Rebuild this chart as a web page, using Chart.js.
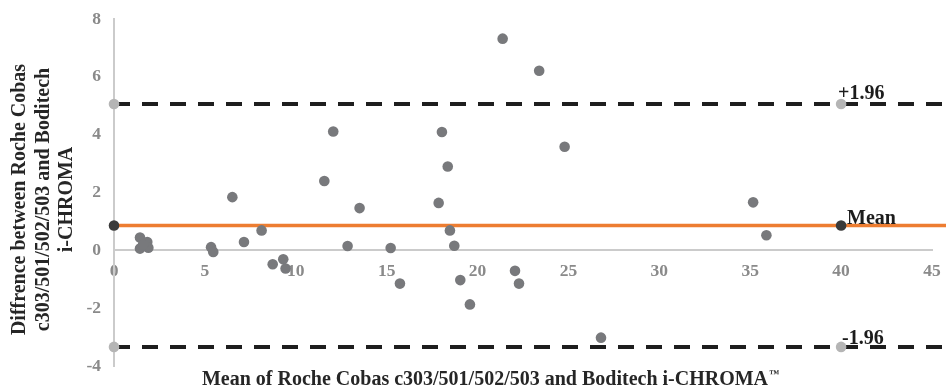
<!DOCTYPE html>
<html>
<head>
<meta charset="utf-8">
<script src="https://cdn.jsdelivr.net/npm/chart.js@4/dist/chart.umd.min.js"></script>
<style>
  html, body { margin: 0; padding: 0; background: #ffffff; }
  #wrap { width: 946px; height: 389px; position: relative; }
</style>
</head>
<body>
<div id="wrap"><canvas id="chart"></canvas></div>
<script>
// Bland-Altman data: mean of the two methods (x) and their difference (y)
const meanValues = [1.43, 1.83, 1.43, 1.89, 1.60, 5.34, 5.46, 6.51, 7.15, 8.12,
                    8.73, 9.31, 9.44, 11.57, 12.06, 12.85, 13.51, 15.22, 15.73, 17.86,
                    18.04, 18.36, 18.48, 18.72, 19.05, 19.58, 21.38, 22.06, 22.28, 23.39,
                    24.79, 26.79, 35.16, 35.89];
const diffValues = [0.44, 0.29, 0.06, 0.09, 0.20, 0.11, -0.06, 1.84, 0.29, 0.69,
                    -0.48, -0.31, -0.63, 2.40, 4.11, 0.15, 1.46, 0.08, -1.15, 1.64,
                    4.09, 2.90, 0.69, 0.16, -1.03, -1.87, 7.32, -0.71, -1.15, 6.21,
                    3.58, -3.02, 1.66, 0.52];

// Bias and limits of agreement (mean ± 1.96 SD)
const biasMean = 0.86;
const upperLimit = 5.06;
const lowerLimit = -3.34;

// x positions of the marker dots and the span of the reference lines
const markerX = [0, 40];
const lineSpanX = [0, 46];

// Axis ranges and tick steps
const xRange = [0, 45];
const xStep = 5;
const yRange = [-4, 8];
const yStep = 2;

// Label texts
const limitLabels = ['+1.96', 'Mean', '-1.96'];
const xTitle = 'Mean of Roche Cobas c303/501/502/503 and Boditech i-CHROMA';
const xTitleMark = '\u2122';
const yTitleLines = ['Diffrence between Roche Cobas', 'c303/501/502/503 and Boditech', 'i-CHROMA'];

const SERIF = '"Liberation Serif", "Times New Roman", serif';

const points = meanValues.map((m, i) => ({ x: m, y: diffValues[i] }));
const hLine = v => lineSpanX.map(x => ({ x, y: v }));
const markers = v => markerX.map(x => ({ x, y: v }));

// Texts beside the markers at x = 40, plus both axis titles
const annotations = {
  id: 'annotations',
  afterDraw(chart) {
    const { ctx, scales, chartArea } = chart;
    const xs = scales.x, ys = scales.y;
    const px = xs.getPixelForValue(markerX[1]);
    const items = [
      { text: limitLabels[0], v: upperLimit, dx: -3, dy: -5 },
      { text: limitLabels[1], v: biasMean, dx: 6, dy: -1 },
      { text: limitLabels[2], v: lowerLimit, dx: 1, dy: -3 }
    ];
    ctx.save();
    ctx.fillStyle = '#1c1c1c';
    ctx.font = 'bold 20px ' + SERIF;
    ctx.textAlign = 'left';
    ctx.textBaseline = 'alphabetic';
    items.forEach(it => {
      ctx.fillText(it.text, px + it.dx, ys.getPixelForValue(it.v) + it.dy);
    });

    // x axis title with a small raised trademark sign
    ctx.fillStyle = '#262626';
    const mainW = ctx.measureText(xTitle).width;
    ctx.font = 'bold 10px ' + SERIF;
    const markW = ctx.measureText(xTitleMark).width;
    const startX = (chartArea.left + chartArea.right) / 2 - 33 - (mainW + markW) / 2;
    const baseY = chartArea.bottom + 19;
    ctx.fillText(xTitleMark, startX + mainW + 1, baseY - 8);
    ctx.font = 'bold 20px ' + SERIF;
    ctx.fillText(xTitle, startX, baseY);

    // y axis title (rotated, three lines)
    ctx.textAlign = 'center';
    ctx.translate(20, (chartArea.top + chartArea.bottom) / 2 + 7);
    ctx.rotate(-Math.PI / 2);
    ctx.textBaseline = 'middle';
    yTitleLines.forEach((line, i) => ctx.fillText(line, 0, i * 23.5));
    ctx.restore();
  }
};

new Chart(document.getElementById('chart'), {
  type: 'scatter',
  data: {
    datasets: [
      { label: 'Upper limit line', data: hLine(upperLimit), showLine: true, borderColor: '#1e1e1e',
        borderWidth: 4, borderDash: [16, 12], pointRadius: 0, clip: false, order: 10 },
      { label: 'Lower limit line', data: hLine(lowerLimit), showLine: true, borderColor: '#1e1e1e',
        borderWidth: 4, borderDash: [16, 12], pointRadius: 0, clip: false, order: 10 },
      { label: 'Mean line', data: hLine(biasMean), showLine: true, borderColor: '#ed7d31',
        borderWidth: 3.5, pointRadius: 0, clip: false, order: 9 },
      { label: 'Differences', data: points, backgroundColor: '#78797c', borderColor: '#78797c',
        borderWidth: 0, pointRadius: 5.3, order: 5 },
      { label: 'Upper limit', data: markers(upperLimit), backgroundColor: '#b5b5b5', borderWidth: 0,
        pointRadius: 5.3, clip: false, order: 1 },
      { label: 'Lower limit', data: markers(lowerLimit), backgroundColor: '#b5b5b5', borderWidth: 0,
        pointRadius: 5.3, clip: false, order: 1 },
      { label: 'Mean', data: markers(biasMean), backgroundColor: '#3a3a3a', borderWidth: 0,
        pointRadius: 5.3, clip: false, order: 1 }
    ]
  },
  options: {
    responsive: true,
    maintainAspectRatio: false,
    animation: false,
    events: [],
    layout: { padding: { left: 0, right: 14, top: 19, bottom: 23 } },
    plugins: { legend: { display: false }, tooltip: { enabled: false }, title: { display: false } },
    scales: {
      x: {
        type: 'linear',
        position: { y: 0 },
        min: xRange[0], max: xRange[1],
        grid: { display: true, color: 'transparent', drawTicks: true, tickLength: 10.5, tickColor: 'transparent' },
        border: { display: true, color: '#cbcbcb', width: 2 },
        ticks: { stepSize: xStep, padding: 0, color: '#8a8a8a',
                 font: { family: SERIF, size: 17.5, weight: 'bold' } }
      },
      y: {
        type: 'linear',
        position: 'left',
        min: yRange[0], max: yRange[1],
        grid: { display: true, color: 'transparent', drawTicks: true, tickLength: 13, tickColor: 'transparent' },
        border: { display: true, color: '#cbcbcb', width: 2 },
        ticks: { stepSize: yStep, padding: 0, color: '#8a8a8a',
                 font: { family: SERIF, size: 17.5, weight: 'bold' } },
        afterFit(scale) { scale.width = 114; }
      }
    }
  },
  plugins: [annotations]
});
</script>
</body>
</html>
